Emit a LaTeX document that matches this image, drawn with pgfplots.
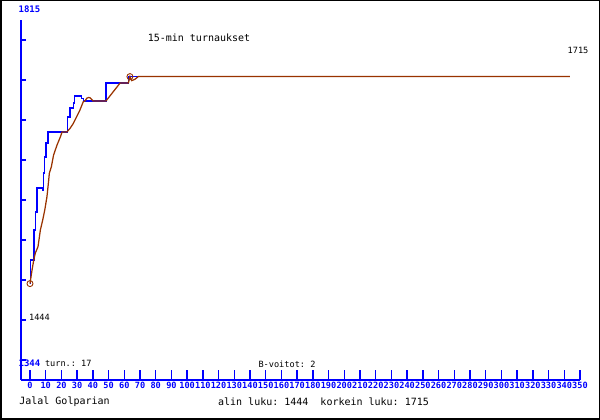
\documentclass[border=0pt]{standalone}
\usepackage{pgfplots}
\pgfplotsset{compat=1.18}
\usepackage{fontspec}
\setmonofont{DejaVu Sans Mono}
\definecolor{rbrown}{RGB}{153,51,0}
\begin{document}
\begin{tikzpicture}
\path[use as bounding box] (0,0) rectangle (600pt,420pt);
\begin{axis}[
  at={(21pt,40pt)}, anchor=south west,
  scale only axis, width=559pt, height=360pt,
  xmin=-5.727, xmax=350, ymin=1317.8, ymax=1789.1,
  axis x line=bottom, axis y line=left,
  axis line style={blue, line width=1.6pt, -},
  xtick={0,10,...,350}, ytick=\empty,
  tick align=inside, major tick length=10pt,
  xtick style={blue, line width=1.3pt},
  /pgf/number format/assume math mode=true,
  xticklabel style={font=\ttfamily\bfseries\fontsize{8.6}{9}\selectfont, text=blue, inner sep=1.5pt},
  clip=false,
]
% blue rating line
\addplot[blue, line width=1.25pt] coordinates {
(0,1444) (0.2,1444) (0.2,1474.9) (2.5,1474.9) (2.5,1514.2) (3.5,1514.2) (3.5,1537.7)
(4.5,1537.7) (4.5,1569.1) (8.1,1569.1) (8.1,1566.5) (8.6,1566.5) (8.6,1588.8)
(9.4,1588.8) (9.4,1609.7) (10.2,1609.7) (10.2,1628.1) (11.5,1628.1) (11.5,1642.5)
(23.9,1642.5) (23.9,1662.1) (25.5,1662.1) (25.5,1673.9) (27.6,1673.9) (27.6,1680.4)
(28.2,1680.4) (28.2,1689.6) (32.9,1689.6) (32.9,1686.6) (33.9,1686.6) (33.9,1683.2)
(48.4,1683.2) (48.4,1706.5) (62.7,1706.5) (62.7,1715) (72.1,1715)
};
% brown average line
\addplot[rbrown, line width=1.25pt] coordinates {
(0,1444) (1.3,1461.8) (2.4,1474.9) (3.4,1484.1) (5.1,1492.3) (6.6,1514.2) (8.1,1527.3)
(9.4,1540.4) (10.8,1557.8) (11.9,1579.6) (12.3,1588.4) (13.6,1597.0) (15.0,1612.3)
(17.2,1625.4) (19.3,1635.9) (20.4,1642.5) (23.5,1642.5) (25.5,1647.3) (27.6,1653.8)
(29.7,1662.5) (31.8,1671.3) (33.9,1682.1) (35.0,1683.2) (36.1,1686.6) (37.2,1687.6)
(38.2,1687.4) (39.3,1685.0) (40.1,1683.2) (48.4,1683.2) (57.3,1706.5) (62.6,1706.5)
(63.6,1715) (64.7,1709.7) (66.8,1711.5) (68.9,1715) (343.6,1715)
};
\addplot[rbrown, only marks, mark=o, mark size=3pt, line width=0.9pt] coordinates {(0,1444) (63.6,1715)};
\pgfplotsinvokeforeach{1344,1396.4,1448.7,1501.1,1553.4,1605.8,1658.2,1710.5,1762.9}{
  \draw[blue, line width=1.3pt] (axis cs:-5.727,#1) -- ++(5pt,0pt);
}
\end{axis}
\draw[black, line width=1.5pt] (0.75pt,0.75pt) rectangle (599.25pt,419.25pt);
\node[font=\ttfamily\bfseries\fontsize{9}{9}\selectfont, text=blue] at (29.5pt,411pt) {1815};
\node[font=\ttfamily\bfseries\fontsize{9}{9}\selectfont, text=blue] at (29.5pt,56.5pt) {1344};
\node[font=\ttfamily\fontsize{8.6}{9}\selectfont] at (68.3pt,56.5pt) {turn.: 17};
\node[font=\ttfamily\fontsize{8.6}{9}\selectfont] at (287pt,56pt) {B-voitot: 2};
\node[font=\ttfamily\fontsize{10}{10}\selectfont] at (199pt,382pt) {15-min turnaukset};
\node[font=\ttfamily\fontsize{8.6}{9}\selectfont] at (578pt,370pt) {1715};
\node[font=\ttfamily\fontsize{8.6}{9}\selectfont] at (39.5pt,103pt) {1444};
\node[font=\ttfamily\fontsize{10}{10}\selectfont] at (64.5pt,18pt) {Jalal Golparian};
\node[font=\ttfamily\fontsize{10}{10}\selectfont] at (323.5pt,18pt) {alin luku: 1444\ \ korkein luku: 1715};
\end{tikzpicture}
\end{document}
